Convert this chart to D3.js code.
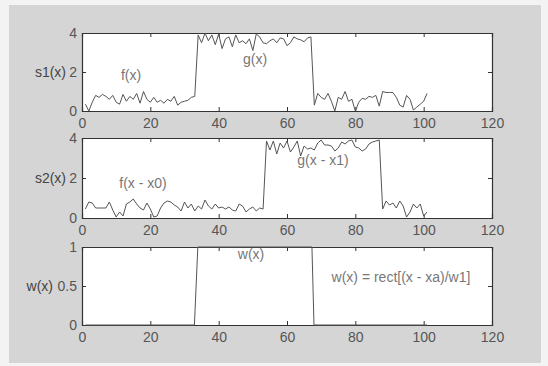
<!DOCTYPE html>
<html>
<head>
<meta charset="utf-8">
<script src="https://cdn.jsdelivr.net/npm/d3@7"></script>
<style>
  body { margin: 0; background: #f3f3f3; }
  svg { display: block; font-family: "Liberation Sans", Arial, sans-serif; }
</style>
</head>
<body>
<svg id="chart" width="548" height="366"></svg>
<script>
// x ticks shared by all three panels
const xTicks = [0, 20, 40, 60, 80, 100, 120];
const s1Ticks = [0, 2, 4];
const s2Ticks = [0, 2, 4];
const wTicks = [0, 0.5, 1];

// s1(x): f(x), then g(x), then noise again (x = 1..101)
const s1Vals = [
  0.35, 0.0, 0.45, 0.8, 0.7, 0.85, 0.75, 0.6, 0.8, 0.45,
  0.35, 0.85, 0.5, 0.75, 0.6, 0.9, 0.4, 1.0, 0.6, 0.45,
  0.7, 0.45, 0.55, 0.4, 0.6, 0.5, 0.75, 0.3, 0.45, 0.5,
  0.55, 0.7, 0.75,
  3.9, 3.5, 4.0, 3.6, 3.9, 3.4, 3.95, 3.2, 3.7, 3.8,
  3.3, 3.9, 3.5, 3.6, 3.45, 3.7, 3.1, 3.95, 3.8, 3.5,
  3.45, 3.6, 3.7, 3.5, 3.75, 3.7, 3.35, 3.5, 3.8, 3.7,
  3.65, 3.55, 3.75, 3.8,
  0.3, 0.9, 0.7, 0.6, 0.9, 0.5, 0.0, 0.7, 0.6, 1.0,
  0.5, 0.6, 0.0, 0.45, 0.65, 0.6, 0.75, 0.7, 0.8, 0.25,
  1.0, 0.95, 0.95, 0.95, 0.7, 0.3, 0.2, 0.8, 0.6, 0.05,
  0.2, 0.35, 0.5, 0.9
];

// s2(x): f(x - x0), g(x - x1), noise (x = 1..101)
const s2Vals = [
  0.45, 0.8, 0.75, 0.5, 0.5, 0.5, 0.5, 0.8, 0.4, 0.05,
  0.3, 0.1, 0.7, 0.8, 0.95, 0.7, 0.5, 0.4, 0.75, 0.45,
  0.05, 0.1, 0.5, 0.75, 0.85, 0.8, 0.65, 0.55, 0.35, 0.8,
  0.5, 0.7, 0.35, 0.6, 0.45, 0.9, 0.6, 0.45, 0.7, 0.5,
  0.55, 0.45, 0.55, 0.4, 0.35, 0.7, 0.6, 0.3, 0.45, 0.55,
  0.35, 0.5, 0.45,
  3.85, 3.4, 3.85, 3.2, 3.75, 3.5, 3.85, 3.3, 3.55, 3.85,
  3.1, 3.6, 3.45, 3.5, 3.4, 3.75, 3.9, 3.65, 3.65, 3.6,
  3.35, 3.5, 3.8, 3.7, 3.85, 3.9, 3.55, 3.5, 3.35, 3.45,
  3.7, 3.8, 3.85, 3.9,
  0.45, 0.85, 0.65, 0.75, 0.5, 0.85, 0.6, 0.05, 0.3, 0.7,
  0.5, 0.7, 0.1, 0.3
];

// w(x) = rect window, given as its corner points
const wX = [1, 32.9, 33.9, 67.3, 67.9, 101];
const wY = [0, 0, 1, 1, 0, 0];

const svg = d3.select('#chart');

// scanned grey figure background
svg.append('rect')
  .attr('x', 9).attr('y', 5)
  .attr('width', 532).attr('height', 358)
  .attr('fill', '#d5d5d5');

const left = 82, right = 492;
const x = d3.scaleLinear().domain([0, 120]).range([left, right]);
const fmt = d => String(d);

const panels = [
  { top: 33, bottom: 111, ymax: 4, ticks: s1Ticks, label: 's1(x)', labelX: 66,
    pts: s1Vals.map((v, i) => [i + 1, v]),
    notes: [{ t: 'f(x)', x: 131, y: 80 }, { t: 'g(x)', x: 255, y: 64 }] },
  { top: 138, bottom: 218, ymax: 4, ticks: s2Ticks, label: 's2(x)', labelX: 66,
    pts: s2Vals.map((v, i) => [i + 1, v]),
    notes: [{ t: 'f(x - x0)', x: 143, y: 188 }, { t: 'g(x - x1)', x: 323, y: 165 }] },
  { top: 247, bottom: 325, ymax: 1, ticks: wTicks, label: 'w(x)', labelX: 53,
    pts: wX.map((v, i) => [v, wY[i]]),
    notes: [{ t: 'w(x)', x: 251, y: 259 }, { t: 'w(x) = rect[(x - xa)/w1]', x: 401, y: 282 }] }
];

panels.forEach(p => {
  const y = d3.scaleLinear().domain([0, p.ymax]).range([p.bottom, p.top]);
  const g = svg.append('g');

  g.append('rect')
    .attr('x', left).attr('y', p.top)
    .attr('width', right - left).attr('height', p.bottom - p.top)
    .attr('fill', '#fff');

  // MATLAB style: ticks pointing inwards on all four sides
  const axes = [
    { ax: d3.axisBottom(x).tickValues(xTicks), pos: `translate(0,${p.bottom})`, pad: 7 },
    { ax: d3.axisTop(x).tickValues(xTicks), pos: `translate(0,${p.top})`, pad: -1 },
    { ax: d3.axisLeft(y).tickValues(p.ticks), pos: `translate(${left},0)`, pad: 5 },
    { ax: d3.axisRight(y).tickValues(p.ticks), pos: `translate(${right},0)`, pad: -1 }
  ];
  axes.forEach(a => {
    a.ax.tickSize(-4).tickFormat(fmt).tickPadding(Math.max(a.pad, 0));
    const ag = g.append('g').attr('transform', a.pos).call(a.ax);
    ag.select('.domain').attr('stroke', '#333').attr('stroke-width', 1.2);
    ag.selectAll('.tick line').attr('stroke', '#333');
    ag.selectAll('.tick text')
      .attr('font-size', 14)
      .attr('font-family', '"Liberation Sans", Arial, sans-serif')
      .attr('fill', '#555')
      .style('display', a.pad < 0 ? 'none' : null);
  });

  const line = d3.line().x(d => x(d[0])).y(d => y(d[1]));
  g.append('path')
    .datum(p.pts)
    .attr('d', line)
    .attr('fill', 'none')
    .attr('stroke', '#555')
    .attr('stroke-width', 1);

  g.append('text')
    .attr('x', p.labelX).attr('y', (p.top + p.bottom) / 2 + 5)
    .attr('text-anchor', 'end')
    .attr('font-size', 14)
    .attr('fill', '#444')
    .text(p.label);

  g.selectAll('text.note')
    .data(p.notes)
    .enter().append('text')
    .attr('class', 'note')
    .attr('x', d => d.x).attr('y', d => d.y)
    .attr('text-anchor', 'middle')
    .attr('font-size', 14)
    .attr('fill', '#777')
    .text(d => d.t);
});
</script>
</body>
</html>
